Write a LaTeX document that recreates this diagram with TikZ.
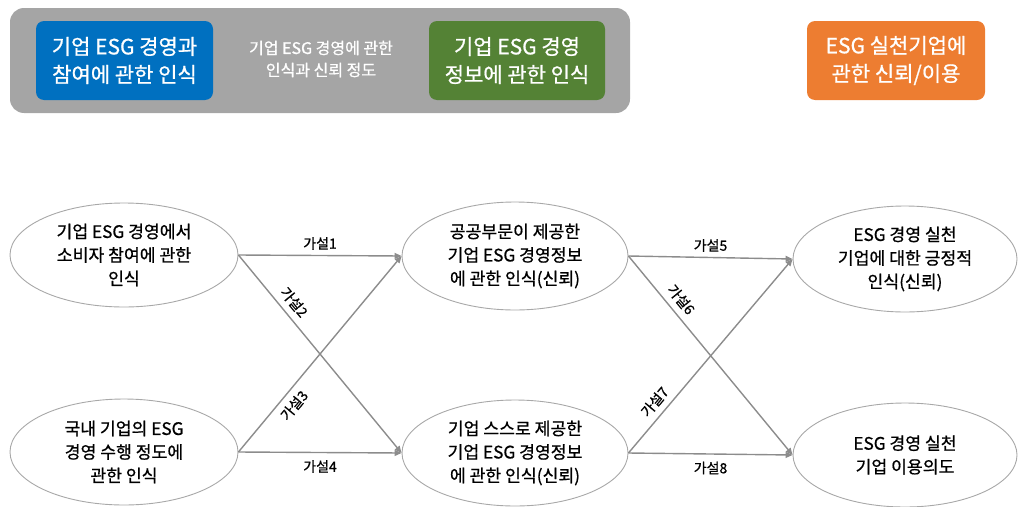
\documentclass[tikz,border=0pt]{standalone}
\usepackage{fontspec}
\setmainfont{Noto Sans CJK KR}[FakeBold=0.8]
\usetikzlibrary{shapes.geometric,arrows.meta}
\definecolor{bgGray}{HTML}{A5A5A5}
\definecolor{boxBlue}{HTML}{0070C0}
\definecolor{boxGreen}{HTML}{548235}
\definecolor{boxOrange}{HTML}{ED7D31}
\definecolor{lineGray}{HTML}{8C8C8C}
\definecolor{ellGray}{HTML}{A8A8A8}
\tikzset{
  topbox/.style={rectangle, rounded corners=8pt, minimum height=79pt, inner sep=0pt,
    text=white, align=center, font=\fontsize{21}{28}\selectfont},
  ellbox/.style={ellipse, draw=ellGray, line width=0.9pt, inner sep=0pt, fill=white,
    align=center, font=\fontsize{17.2}{23.5}\selectfont},
  hyp/.style={draw=lineGray, line width=1.4pt, -{Triangle[length=7pt,width=6pt]}},
  hlab/.style={font=\fontsize{14}{15}\selectfont, inner sep=1pt}
}
\begin{document}
\begin{tikzpicture}[x=1pt,y=-1pt]
\useasboundingbox (0,0) rectangle (1019,506);
% top banner
\node[rectangle, rounded corners=14pt, fill=bgGray, minimum width=620pt, minimum height=105pt, inner sep=0pt] (bg) at (320,60.5) {};
\node[topbox, fill=boxBlue, minimum width=177pt] (b1) at (124.5,60.5) {기업 ESG 경영과\\참여에 관한 인식};
\node[text=white, align=center, font=\fontsize{16}{22}\selectfont, inner sep=0pt] (mid) at (321,59) {기업 ESG 경영에 관한\\인식과 신뢰 정도};
\node[topbox, fill=boxGreen, minimum width=176pt] (b2) at (517,60.5) {기업 ESG 경영\\정보에 관한 인식};
\node[topbox, fill=boxOrange, minimum width=178pt] (b3) at (896,60.5) {ESG 실천기업에\\관한 신뢰/이용};
% ellipses
\node[ellbox, minimum width=228pt, minimum height=104pt] (e1) at (124,255) {기업 ESG 경영에서\\소비자 참여에 관한\\인식};
\node[ellbox, minimum width=228pt, minimum height=106pt] (e2) at (124,452) {국내 기업의 ESG\\경영 수행 정도에\\관한 인식};
\node[ellbox, minimum width=226pt, minimum height=108pt] (e3) at (515,256) {공공부문이 제공한\\기업 ESG 경영정보\\에 관한 인식(신뢰)};
\node[ellbox, minimum width=226pt, minimum height=106pt] (e4) at (515,453) {기업 스스로 제공한\\기업 ESG 경영정보\\에 관한 인식(신뢰)};
\node[ellbox, minimum width=224pt, minimum height=106pt] (e5) at (905,259) {ESG 경영 실천\\기업에 대한 긍정적\\인식(신뢰)};
\node[ellbox, minimum width=224pt, minimum height=104pt] (e6) at (905,455) {ESG 경영 실천\\기업 이용의도};
% connectors
\draw[hyp] (e1.east) -- node[hlab, above=4pt] {가설1} (e3.west);
\draw[hyp] (e1.east) -- node[hlab, pos=0.28, sloped, above=5pt] {가설2} (e4.west);
\draw[hyp] (e2.east) -- node[hlab, pos=0.28, sloped, below=5pt] {가설3} (e3.west);
\draw[hyp] (e2.east) -- node[hlab, below=6pt] {가설4} (e4.west);
\draw[hyp] (e3.east) -- node[hlab, above=4pt] {가설5} (e5.west);
\draw[hyp] (e3.east) -- node[hlab, pos=0.26, sloped, above=5pt] {가설6} (e6.west);
\draw[hyp] (e4.east) -- node[hlab, pos=0.22, sloped, above=5pt] {가설7} (e5.west);
\draw[hyp] (e4.east) -- node[hlab, below=6pt] {가설8} (e6.west);
\end{tikzpicture}
\end{document}
